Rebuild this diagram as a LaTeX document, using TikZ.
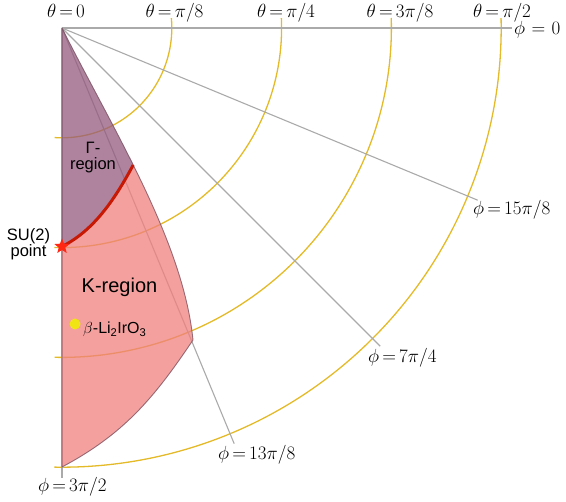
\RequirePackage{fix-cm}
\documentclass[tikz,border=0pt]{standalone}
\usepackage{fontspec}
\newfontfamily\hel{Liberation Sans}
\usetikzlibrary{shapes.geometric}
\definecolor{gridgray}{RGB}{170,170,170}
\definecolor{arcyel}{RGB}{228,186,40}
\definecolor{gampurple}{RGB}{148,90,126}
\definecolor{kpink}{RGB}{240,128,126}
\definecolor{edgecol}{RGB}{115,75,90}
\definecolor{sured}{RGB}{200,25,5}
\definecolor{starred}{RGB}{255,40,20}
\definecolor{dotyel}{RGB}{240,228,20}
\newcommand{\meq}{\mkern3mu{=}\mkern3mu}
\newcommand{\weq}{\mkern6mu{=}\mkern6mu}
\begin{document}
\begin{tikzpicture}[x=1pt,y=-1pt,
  gridline/.style={draw=gridgray, line width=1.1pt},
  thetaarc/.style={draw=arcyel, line width=1.3pt},
  mlabel/.style={inner sep=0pt, font=\fontsize{19}{21}\selectfont},
  slabel/.style={inner sep=0pt, font=\hel\fontsize{16.5}{16}\selectfont, align=center},
]
\useasboundingbox (0,0) rectangle (566,502);
\coordinate (O) at (62,28);
% theta arcs
\foreach \r/\a/\b in {109.8/-5.2/93.9, 219.6/-2.6/92.0, 329.4/-1.74/91.3, 439.2/-1.3/91.0}{
  \draw[thetaarc] plot[domain=\a:\b, samples=90, smooth] ({62+\r*cos(\x)},{28+\r*sin(\x)});
}
% phi lines
\coordinate (p0) at (512,28);
\coordinate (p158) at (477.7,200.2);
\coordinate (p74) at (380.2,346.2);
\coordinate (p138) at (234.2,443.7);
\coordinate (p32) at (62,478);
\foreach \e in {p0,p158,p74,p138,p32}{
  \draw[gridline] (O) -- (\e);
}
% regions
\coordinate (C) at (193,340);
\coordinate (B) at (62,467);
\coordinate (S) at (62,246.5);
\coordinate (E) at (133.2,165);
\begin{scope}
  \clip (O) .. controls (112,128) and (183,240) .. (C) .. controls (154,398) and (124,434) .. (B) -- cycle;
  \fill[kpink, opacity=.75] (S) .. controls (95,230) and (116,197) .. (E) -- (153,131) -- (260,131) -- (260,500) -- (40,500) -- (40,246.5) -- cycle;
  \fill[gampurple, opacity=.75] (S) .. controls (95,230) and (116,197) .. (E) -- (153,131) -- (153,0) -- (40,0) -- (40,246.5) -- cycle;
\end{scope}
\draw[edgecol, draw opacity=.75, line width=.9pt, line join=round] (O) .. controls (112,128) and (183,240) .. (C) .. controls (154,398) and (124,434) .. (B) -- cycle;
\draw[sured, line width=3pt] (S) .. controls (95,230) and (116,197) .. (E);
\node[star, star points=5, star point ratio=2.3, fill=starred, inner sep=0pt, minimum size=16pt] (su2star) at (S) {};
\node[circle, fill=dotyel, inner sep=0pt, minimum size=11pt] (lidot) at (75,324) {};
% labels
\node[mlabel, anchor=base] (t0) at (66,18) {$\theta\meq0$};
\node[mlabel, anchor=base] (t1) at (174.5,18) {$\theta\meq\pi/8$};
\node[mlabel, anchor=base] (t2) at (286,18) {$\theta\meq\pi/4$};
\node[mlabel, anchor=base] (t3) at (400,18) {$\theta\meq3\pi/8$};
\node[mlabel, anchor=base] (t4) at (502,18) {$\theta\meq\pi/2$};
\node[mlabel, anchor=base west] (f0) at (514,35) {$\phi\weq0$};
\node[mlabel, anchor=base west] (f158) at (473,215) {$\phi\meq15\pi/8$};
\node[mlabel, anchor=base west] (f74) at (368,363) {$\phi\meq7\pi/4$};
\node[mlabel, anchor=base west] (f138) at (218,460) {$\phi\meq13\pi/8$};
\node[mlabel, anchor=base west] (f32) at (38,492) {$\phi\meq3\pi/2$};
\node[slabel, anchor=north] (greg) at (93,142) {Γ-\\region};
\node[slabel, anchor=north] (su2) at (28.5,228) {SU(2)\\point};
\node[inner sep=0pt, anchor=base, font=\hel\fontsize{20}{22}\selectfont] (kreg) at (119.5,293) {K-region};
\node[inner sep=0pt, anchor=base west, font=\hel\fontsize{16}{18}\selectfont] (beta) at (83,334) {$\beta$-Li\textsubscript{2}IrO\textsubscript{3}};
\end{tikzpicture}
\end{document}
